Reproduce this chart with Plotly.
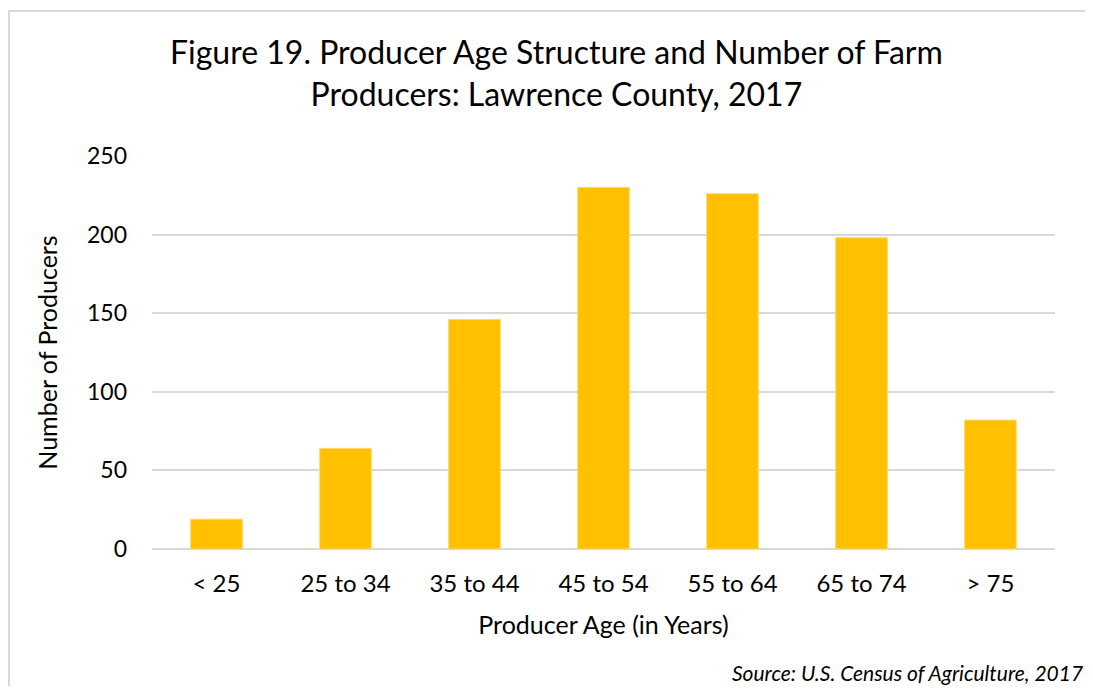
import plotly.graph_objects as go

categories = ["< 25", "25 to 34", "35 to 44", "45 to 54", "55 to 64", "65 to 74", "> 75"]
producers = [19, 64, 146, 230, 226, 198, 82]
y_ticks = [0, 50, 100, 150, 200, 250]

# page is rendered with an 8px body margin; work in page pixels and convert
OFF = 8
W, H = 1077, 678
L = 152 - OFF
T = 156 - OFF
R = W - (1055 - OFF)
B = H - (549 - OFF)
pw = W - L - R
ph = H - T - B

def px_x(p):
    return (p - OFF - L) / pw

def px_y(p):
    return (H - B - (p - OFF)) / ph

font_family = "Lato, 'Open Sans', sans-serif"

fig = go.Figure(go.Bar(
    x=categories, y=producers,
    marker=dict(color="#FFC000", line=dict(color="#FFD966", width=1)),
    width=0.4,
))

fig.update_layout(
    width=W, height=H,
    margin=dict(l=L, r=R, t=T, b=B),
    paper_bgcolor="white", plot_bgcolor="white",
    showlegend=False,
    font=dict(family=font_family, color="#000000", size=20),
    xaxis=dict(
        title=dict(text="Producer Age (in Years)", font=dict(size=25), standoff=20),
        tickfont=dict(size=24),
        showgrid=False, showline=False, zeroline=False,
        ticks="", ticklabelstandoff=18,
    ),
    yaxis=dict(
        title=dict(text="Number of Producers", font=dict(size=25), standoff=22),
        range=[0, 250], tickvals=y_ticks,
        tickfont=dict(size=23),
        showgrid=True, gridcolor="#D9D9D9", gridwidth=1.5,
        zeroline=True, zerolinecolor="#D9D9D9", zerolinewidth=1.5,
        showline=False, ticks="", ticklabelstandoff=24,
    ),
    shapes=[dict(
        type="rect", xref="paper", yref="paper",
        x0=px_x(8 + 1), x1=px_x(1200), y0=px_y(800), y1=px_y(11),
        line=dict(color="#D9D9D9", width=2), fillcolor="rgba(0,0,0,0)",
        layer="below",
    )],
    annotations=[
        dict(
            text="Figure 19. Producer Age Structure and Number of Farm<br>Producers: Lawrence County, 2017",
            xref="paper", yref="paper", x=px_x(556), y=px_y(72),
            xanchor="center", yanchor="middle", showarrow=False,
            font=dict(size=32, family=font_family, color="#000000"),
        ),
        dict(
            text="<i>Source: U.S. Census of Agriculture, 2017</i>",
            xref="paper", yref="paper", x=px_x(1085), y=px_y(672),
            xanchor="right", yanchor="middle", showarrow=False,
            font=dict(size=21, family=font_family, color="#000000"),
        ),
    ],
)

fig.write_html("out.html")
